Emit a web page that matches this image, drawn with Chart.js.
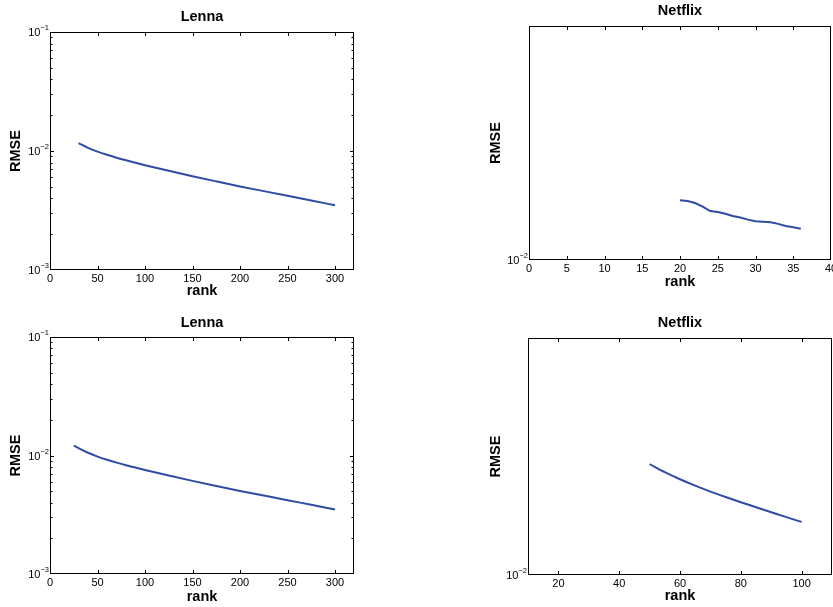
<!DOCTYPE html>
<html>
<head>
<meta charset="utf-8">
<script src="https://cdn.jsdelivr.net/npm/chart.js@4.4.1/dist/chart.umd.min.js"></script>
<style>
  html, body { margin: 0; padding: 0; background: #fff; }
  body { width: 833px; height: 607px; position: relative; overflow: hidden; }
  .panel { position: absolute; }
</style>
</head>
<body>
<div class="panel" style="left:0;top:0;width:400px;height:300px"><canvas id="lennaTop"></canvas></div>
<div class="panel" style="left:480px;top:0;width:353px;height:300px"><canvas id="netflixTop"></canvas></div>
<div class="panel" style="left:0;top:300px;width:400px;height:307px"><canvas id="lennaBottom"></canvas></div>
<div class="panel" style="left:480px;top:300px;width:353px;height:307px"><canvas id="netflixBottom"></canvas></div>
<script>
// --- data ---
const lennaRankTop = [30, 40, 50, 60, 70, 80, 100, 125, 150, 175, 200, 225, 250, 275, 300];
const lennaRmseTop = [0.011668, 0.010641, 0.009886, 0.00929, 0.00879, 0.008356, 0.007603, 0.006816, 0.006144, 0.005555, 0.005038, 0.004599, 0.004199, 0.003835, 0.003501];

const lennaRankBottom = [25, 30, 40, 50, 60, 70, 80, 100, 125, 150, 175, 200, 225, 250, 275, 300];
const lennaRmseBottom = [0.012134, 0.011535, 0.010544, 0.009795, 0.009204, 0.00871, 0.008279, 0.007551, 0.006776, 0.006109, 0.005534, 0.005023, 0.004592, 0.004198, 0.003837, 0.003508];

const netflixRankTop = [20, 21, 22, 23, 24, 25, 26, 27, 28, 29, 30, 31, 32, 33, 34, 35, 36];
const netflixRmseTop = [0.01194, 0.01191, 0.01184, 0.01171, 0.01156, 0.01153, 0.01147, 0.01139, 0.01134, 0.01127, 0.01122, 0.0112, 0.01118, 0.01113, 0.01106, 0.01102, 0.01097];

const netflixRankBottom = [50, 55, 60, 65, 70, 75, 80, 85, 90, 95, 100];
const netflixRmseBottom = [0.013832, 0.01351, 0.013232, 0.012986, 0.012763, 0.012561, 0.012371, 0.012193, 0.012016, 0.011843, 0.01168];

const lennaXTicks = [0, 50, 100, 150, 200, 250, 300];
const netflixXTicksTop = [0, 5, 10, 15, 20, 25, 30, 35, 40];
const netflixXTicksBottom = [20, 40, 60, 80, 100];
const lennaYTicks = [0.001, 0.01, 0.1];
const netflixYTicks = [0.01];

const FONT = "'Liberation Sans', Arial, Helvetica, sans-serif";
const LINE_COLOR = '#2f4ba6';

Chart.defaults.font.family = FONT;
Chart.defaults.color = '#000';

// matlab-like box, inward ticks and 10^x labels
const matlabAxes = {
  id: 'matlabAxes',
  afterDraw(chart, args, opts) {
    const { ctx, chartArea: a, scales: { x, y } } = chart;
    ctx.save();
    ctx.strokeStyle = '#000';
    ctx.lineWidth = 1;
    ctx.strokeRect(a.left + 0.5, a.top + 0.5, a.right - a.left - 1, a.bottom - a.top - 1);

    ctx.beginPath();
    x.ticks.forEach(t => {
      const px = Math.round(x.getPixelForValue(t.value)) + 0.5;
      if (px <= a.left + 1 || px >= a.right - 1) return;
      ctx.moveTo(px, a.bottom); ctx.lineTo(px, a.bottom - 4);
      ctx.moveTo(px, a.top); ctx.lineTo(px, a.top + 4);
    });
    opts.yTicks.forEach(v => {
      const py = Math.round(y.getPixelForValue(v)) + 0.5;
      if (py <= a.top + 1 || py >= a.bottom - 1) return;
      ctx.moveTo(a.left, py); ctx.lineTo(a.left + 4, py);
      ctx.moveTo(a.right, py); ctx.lineTo(a.right - 4, py);
    });
    if (opts.minor) {
      const d0 = Math.floor(Math.log10(y.min));
      const d1 = Math.ceil(Math.log10(y.max));
      for (let d = d0; d < d1; d++) {
        for (let k = 2; k <= 9; k++) {
          const v = k * Math.pow(10, d);
          if (v <= y.min || v >= y.max) continue;
          const py = Math.round(y.getPixelForValue(v)) + 0.5;
          ctx.moveTo(a.left, py); ctx.lineTo(a.left + 2.5, py);
          ctx.moveTo(a.right, py); ctx.lineTo(a.right - 2.5, py);
        }
      }
    }
    ctx.stroke();

    ctx.fillStyle = '#000';
    opts.yTicks.forEach(v => {
      const py = y.getPixelForValue(v);
      const exp = '\u2212' + Math.abs(Math.round(Math.log10(v)));
      ctx.font = '7.5px ' + FONT;
      const ew = ctx.measureText(exp).width;
      ctx.textBaseline = 'middle';
      ctx.textAlign = 'left';
      ctx.fillText(exp, a.left - 1 - ew, py - 4);
      ctx.font = '11px ' + FONT;
      ctx.textAlign = 'right';
      ctx.fillText('10', a.left - 1 - ew, py + 1);
    });
    ctx.restore();
  }
};

function makePlot(id, o) {
  const bold = { family: FONT, size: 14.5, weight: 'bold' };
  return new Chart(document.getElementById(id), {
    type: 'line',
    data: {
      datasets: [{
        data: o.xs.map((x, i) => ({ x: x, y: o.ys[i] })),
        borderColor: LINE_COLOR,
        borderWidth: 2,
        pointRadius: 0,
        fill: false,
        cubicInterpolationMode: o.smooth ? 'monotone' : 'default',
        tension: 0
      }]
    },
    options: {
      responsive: true,
      maintainAspectRatio: false,
      animation: false,
      events: [],
      layout: { padding: { left: 0, right: o.padRight, top: 0, bottom: 0 } },
      plugins: {
        legend: { display: false },
        tooltip: { enabled: false },
        title: {
          display: true,
          fullSize: false,
          text: o.title,
          color: '#000',
          font: bold,
          padding: { top: o.titleTop, bottom: o.titleBottom }
        },
        matlabAxes: { yTicks: o.yTicks, minor: o.minor }
      },
      scales: {
        x: {
          type: 'linear',
          min: o.xMin,
          max: o.xMax,
          grid: { display: false, drawTicks: false },
          border: { display: false },
          ticks: { color: '#000', font: { family: FONT, size: 11 }, padding: o.tickPad, autoSkip: false, maxRotation: 0 },
          afterBuildTicks: s => { s.ticks = o.xTicks.map(v => ({ value: v })); },
          afterFit: s => { s.height = o.xHeight; s.paddingLeft = 0; s.paddingRight = 0; },
          title: { display: true, text: 'rank', color: '#000', font: bold, padding: { top: 0, bottom: o.xTitleBottom } }
        },
        y: {
          type: 'logarithmic',
          min: o.yMin,
          max: o.yMax,
          grid: { display: false, drawTicks: false },
          border: { display: false },
          ticks: { display: false },
          afterFit: s => { s.width = o.yWidth; s.paddingTop = 0; s.paddingBottom = 0; },
          title: { display: true, text: 'RMSE', color: '#000', font: bold, padding: { top: o.yTitlePad, bottom: 0 } }
        }
      }
    },
    plugins: [matlabAxes]
  });
}

makePlot('lennaTop', {
  xs: lennaRankTop, ys: lennaRmseTop, smooth: true, title: 'Lenna',
  xMin: 0, xMax: 320, xTicks: lennaXTicks, yMin: 0.001, yMax: 0.1, yTicks: lennaYTicks, minor: true,
  yWidth: 50, padRight: 46, titleTop: 8, titleBottom: 6.6, xHeight: 30, xTitleBottom: 0, tickPad: 2.5, yTitlePad: 7
});
makePlot('netflixTop', {
  xs: netflixRankTop, ys: netflixRmseTop, smooth: false, title: 'Netflix',
  xMin: 0, xMax: 40, xTicks: netflixXTicksTop, yMin: 0.01, yMax: 0.02, yTicks: netflixYTicks, minor: false,
  yWidth: 49, padRight: 2, titleTop: 2.3, titleBottom: 6.3, xHeight: 40, xTitleBottom: 9.3, tickPad: 2.4, yTitlePad: 6.8
});
makePlot('lennaBottom', {
  xs: lennaRankBottom, ys: lennaRmseBottom, smooth: true, title: 'Lenna',
  xMin: 0, xMax: 320, xTicks: lennaXTicks, yMin: 0.001, yMax: 0.1, yTicks: lennaYTicks, minor: true,
  yWidth: 50, padRight: 46, titleTop: 14, titleBottom: 5.6, xHeight: 33, xTitleBottom: 1.6, tickPad: 2.7, yTitlePad: 7
});
makePlot('netflixBottom', {
  xs: netflixRankBottom, ys: netflixRmseBottom, smooth: true, title: 'Netflix',
  xMin: 10, xMax: 110, xTicks: netflixXTicksBottom, yMin: 0.01, yMax: 0.02, yTicks: netflixYTicks, minor: false,
  yWidth: 48, padRight: 1, titleTop: 13.8, titleBottom: 6.8, xHeight: 32, xTitleBottom: 2.3, tickPad: 2.4, yTitlePad: 6.8
});
</script>
</body>
</html>
